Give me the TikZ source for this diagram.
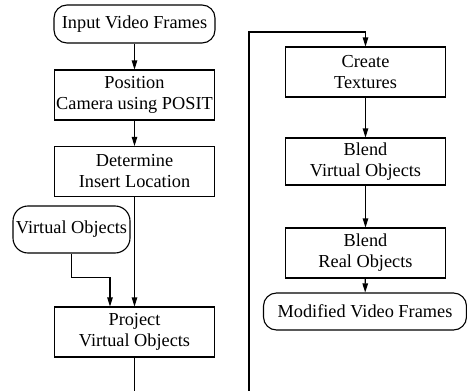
\documentclass[tikz,border=0pt]{standalone}
\usepackage{fontspec}
\setmainfont{Liberation Serif}
\usetikzlibrary{arrows.meta}
\begin{document}
\begin{tikzpicture}[x=1pt,y=-1pt,line width=1.1pt,
  >={Triangle[length=9pt,width=5.5pt]},
  box/.style={draw,rectangle,align=center,minimum width=160pt,minimum height=50pt,
    inner sep=1pt,font=\fontsize{18.3}{21}\selectfont},
  term/.style={box,rounded corners=13pt,minimum height=38pt}]
\useasboundingbox (0,0) rectangle (467,391);

% Left column
\node[term,minimum width=161pt] (in) at (134.5,24) {Input Video Frames};
\node[box] (pos) at (134.5,95) {Position\\Camera using POSIT};
\node[box] (det) at (134.5,171.5) {Determine\\Insert Location};
\node[term,minimum width=117pt,minimum height=47pt,rounded corners=15pt] (virt) at (71.5,229.5) {Virtual Objects};
\node[box] (proj) at (134.5,332) {Project\\Virtual Objects};

% Right column
\node[box] (tex) at (365.5,72) {Create\\Textures};
\node[box,minimum height=47pt] (bvo) at (365.5,161.5) {Blend\\Virtual Objects};
\node[box] (bro) at (365.5,253) {Blend\\Real Objects};
\node[term,minimum width=203pt,minimum height=37pt] (out) at (365,311.5) {Modified Video Frames};

% Loose ends at the bottom edge
\coordinate (loopout) at (134.5,391);
\coordinate (loopin) at (249,391);

% Connectors
\draw[->] (in) -- (pos);
\draw[->] (pos) -- (det);
\draw[->] (det) -- (proj);
\draw[->] (virt.south) -- ++(0,24) -| ([xshift=-24.5pt]proj.north);
\draw (proj) -- (loopout);
\draw[->] (loopin) -- (249,32) -| (tex.north);
\draw[->] (tex) -- (bvo);
\draw[->] (bvo) -- (bro);
\draw[->] (bro) -- (out);
\end{tikzpicture}
\end{document}
